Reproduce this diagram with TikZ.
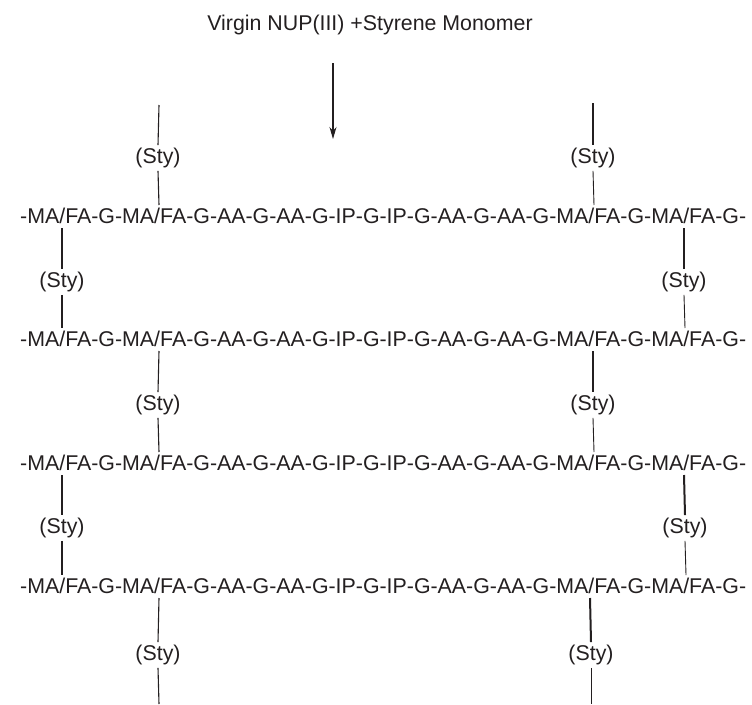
\documentclass[tikz,border=0pt]{standalone}
\usepackage{fontspec}
\setmainfont{Liberation Sans}
\usetikzlibrary{arrows.meta}
\definecolor{ink}{HTML}{231F20}
\begin{document}
\begin{tikzpicture}[x=1pt,y=-1pt,
  chaintext/.style={anchor=base west,inner sep=0pt,font=\fontsize{21.35}{25}\selectfont,text=ink},
  titletext/.style={anchor=base,inner sep=0pt,font=\fontsize{21.35}{25}\selectfont,text=ink},
  sty/.style={inner sep=0pt,outer sep=3pt,font=\fontsize{21.35}{25}\selectfont,text=ink},
  bond/.style={draw=ink,line width=1.1pt},
  heavybond/.style={draw=ink,line width=2pt},
  lightbond/.style={draw=ink,line width=0.9pt}]
\useasboundingbox (0,0) rectangle (752,704);

% title and arrow
\node[titletext] (title) at (370,30) {Virgin NUP(III) +Styrene Monomer};
\coordinate (arrtop) at (333,63);
\coordinate (arrtip) at (333,139);
\draw[bond,-{Stealth[length=12pt,width=7pt]}] (arrtop) -- (arrtip);

% chain rows (baseline = row centre + 7.6)
\def\chaintxt{-MA/FA-G-MA/FA-G-AA-G-AA-G-IP-G-IP-G-AA-G-AA-G-MA/FA-G-MA/FA-G-}
\node[chaintext] (r1) at (20,223.6) {\chaintxt};
\node[chaintext] (r2) at (20,346.6) {\chaintxt};
\node[chaintext] (r3) at (20,470.6) {\chaintxt};
\node[chaintext] (r4) at (20,593.6) {\chaintxt};

% attachment points
\coordinate (r1tB) at (159,205); \coordinate (r1tC) at (594,205);
\coordinate (r1bA) at (62,228);  \coordinate (r1bD) at (684,228);
\coordinate (r2tA) at (62,328);  \coordinate (r2tD) at (685,328);
\coordinate (r2bB) at (159,351); \coordinate (r2bC) at (593,351);
\coordinate (r3tB) at (159,452); \coordinate (r3tC) at (594,452);
\coordinate (r3bA) at (62,475);  \coordinate (r3bD) at (684,475);
\coordinate (r4tA) at (62,575);  \coordinate (r4tD) at (686,575);
\coordinate (r4bB) at (159,598); \coordinate (r4bC) at (590,598);
\coordinate (topB) at (159,105); \coordinate (topC) at (593,103);
\coordinate (botB) at (159,704); \coordinate (botC) at (591,704);

% styrene bridges
\node[sty] (sB0) at (158,158) {(Sty)};
\node[sty] (sC0) at (593,158) {(Sty)};
\node[sty] (sA1) at (62,282) {(Sty)};
\node[sty] (sD1) at (684,282) {(Sty)};
\node[sty] (sB2) at (158,405) {(Sty)};
\node[sty] (sC2) at (593,405) {(Sty)};
\node[sty] (sA3) at (62,528) {(Sty)};
\node[sty] (sD3) at (685,528) {(Sty)};
\node[sty] (sB4) at (158,655) {(Sty)};
\node[sty] (sC4) at (591,655) {(Sty)};

% left column bonds
\draw[bond] (topB) -- (sB0.north);
\draw[bond] (sB0.south) -- (r1tB);
\draw[bond] (r1bA) -- (sA1.north);
\draw[bond] (sA1.south) -- (r2tA);
\draw[bond] (r2bB) -- (sB2.north);
\draw[bond] (sB2.south) -- (r3tB);
\draw[bond] (r3bA) -- (sA3.north);
\draw[bond] (sA3.south) -- (r4tA);
\draw[bond] (r4bB) -- (sB4.north);
\draw[bond] (sB4.south) -- (botB);

% right column bonds
\draw[heavybond] (topC) -- (sC0.north);
\draw[lightbond] (sC0.south) -- (r1tC);
\draw[heavybond] (r1bD) -- (sD1.north);
\draw[lightbond] (sD1.south) -- (r2tD);
\draw[heavybond] (r2bC) -- (sC2.north);
\draw[lightbond] (sC2.south) -- (r3tC);
\draw[heavybond] (r3bD) -- (sD3.north);
\draw[lightbond] (sD3.south) -- (r4tD);
\draw[heavybond] (r4bC) -- (sC4.north);
\draw[lightbond] (sC4.south) -- (botC);
\end{tikzpicture}
\end{document}
